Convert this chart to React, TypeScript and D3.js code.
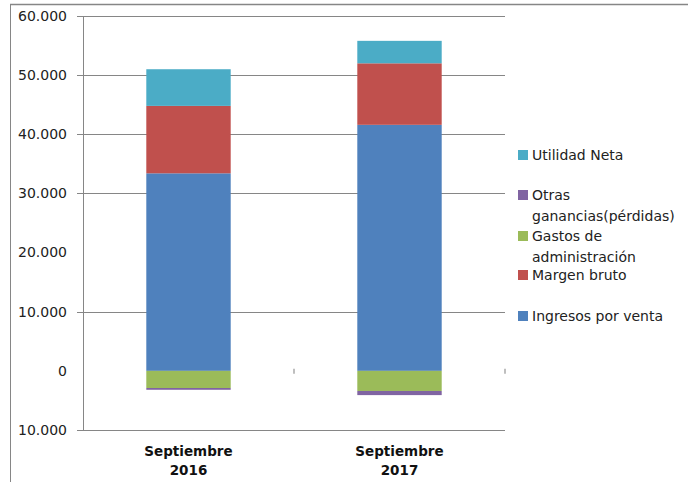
import React from "react";
import * as d3 from "d3";

const categories = ["Septiembre 2016", "Septiembre 2017"];
const ingresos = [33400, 41600];
const margen = [11400, 10400];
const utilidad = [6200, 3800];
const gastos = [-2900, -3400];
const otras = [-300, -700];

const gridTicks = [60000, 50000, 40000, 30000, 10000, -10000];
const tickValues = [60000, 50000, 40000, 30000, 20000, 10000, 0, -10000];
const tickLabels = ["60.000", "50.000", "40.000", "30.000", "20.000", "10.000", "0", "10.000"];

const legendItems = [
  { name: ["Utilidad Neta"], color: "#4BACC6", y: 155 },
  { name: ["Otras", "ganancias(pérdidas)"], color: "#8064A2", y: 195 },
  { name: ["Gastos de", "administración"], color: "#9BBB59", y: 236 },
  { name: ["Margen bruto"], color: "#C0504D", y: 275 },
  { name: ["Ingresos por venta"], color: "#4F81BD", y: 316 },
];

export default function App() {
  const W = 688, H = 482;
  const left = 83, right = 505, top = 16, bottom = 430;
  const y = d3.scaleLinear().domain([-10000, 60000]).range([bottom, top]);
  const x = d3.scaleBand().domain(categories).range([left, right]).paddingInner(0.6).paddingOuter(0.3);
  const band = d3.scaleBand().domain(categories).range([left, right]);

  const positives = [
    { vals: ingresos, color: "#4F81BD" },
    { vals: margen, color: "#C0504D" },
    { vals: utilidad, color: "#4BACC6" },
  ];
  const negatives = [
    { vals: gastos, color: "#9BBB59" },
    { vals: otras, color: "#8064A2" },
  ];

  const rects: any[] = [];
  categories.forEach((c, i) => {
    let acc = 0;
    positives.forEach((s, k) => {
      const y0 = acc, y1 = acc + s.vals[i];
      acc = y1;
      rects.push(<rect key={`p${i}${k}`} x={x(c)} width={x.bandwidth()} y={y(y1)} height={y(y0) - y(y1)} fill={s.color} />);
    });
    let nacc = 0;
    negatives.forEach((s, k) => {
      const y0 = nacc, y1 = nacc + s.vals[i];
      nacc = y1;
      rects.push(<rect key={`n${i}${k}`} x={x(c)} width={x.bandwidth()} y={y(y0)} height={y(y1) - y(y0)} fill={s.color} />);
    });
  });

  const font = "DejaVu Sans, sans-serif";

  return (
    <svg width={W} height={H} style={{ position: "absolute", left: 0, top: 0 }}>
      <rect x={0} y={0} width={W} height={H} fill="#fff" />
      <line x1={10} x2={W} y1={4.5} y2={4.5} stroke="#868686" strokeWidth={1.5} />
      <line x1={10.5} x2={10.5} y1={4} y2={H} stroke="#868686" strokeWidth={1} />
      {gridTicks.map((t) => (
        <line key={t} x1={77} x2={right} y1={Math.round(y(t)) + 0.5} y2={Math.round(y(t)) + 0.5} stroke="#868686" strokeWidth={1} />
      ))}
      <line x1={left + 0.5} x2={left + 0.5} y1={top} y2={bottom} stroke="#868686" strokeWidth={1} />
      {categories.map((c) => (
        <line key={c} x1={(band(c) as number) + band.bandwidth()} x2={(band(c) as number) + band.bandwidth()} y1={y(0) - 2} y2={y(0) + 3} stroke="#aaa" strokeWidth={1.5} />
      ))}
      {rects}
      {tickValues.map((t, i) => (
        <text key={t} x={67} y={y(t)} dy="0.35em" textAnchor="end" fontFamily={font} fontSize={14} fill="#222">
          {tickLabels[i]}
        </text>
      ))}
      {categories.map((c) => {
        const cx = (x(c) as number) + x.bandwidth() / 2;
        const parts = c.split(" ");
        return (
          <text key={c} x={cx} textAnchor="middle" fontFamily={font} fontWeight="bold" fontSize={13.5} fill="#111">
            <tspan x={cx} y={456}>{parts[0]}</tspan>
            <tspan x={cx} y={475}>{parts[1]}</tspan>
          </text>
        );
      })}
      {legendItems.map((it) => (
        <g key={it.name[0]}>
          <rect x={518} y={it.y - 5} width={10} height={10} fill={it.color} />
          {it.name.map((n, j) => (
            <text key={n} x={532} y={it.y + j * 21} dy="0.35em" fontFamily={font} fontSize={14} fill="#222">
              {n}
            </text>
          ))}
        </g>
      ))}
    </svg>
  );
}
